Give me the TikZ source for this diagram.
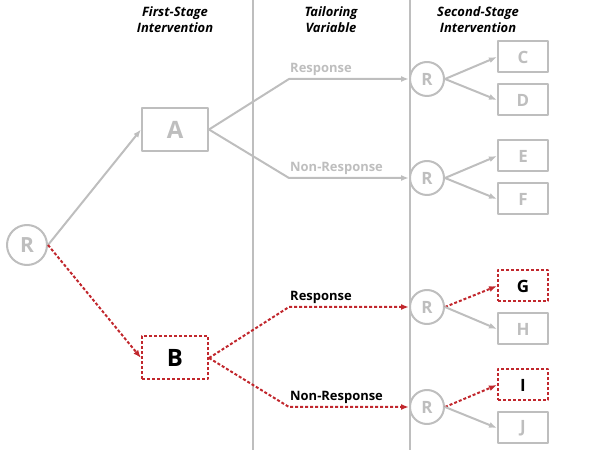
\documentclass[tikz,border=0pt]{standalone}
\usepackage{fontspec}
\setmainfont{Open Sans}
\usetikzlibrary{arrows.meta}
\definecolor{lightgray}{RGB}{190,190,190}
\definecolor{darkred}{RGB}{193,39,45}
\tikzset{
  bigbox/.style={draw=lightgray,line width=2bp,minimum width=66bp,minimum height=43bp,inner sep=0pt,text=lightgray,font=\fontsize{24}{28}\selectfont\bfseries},
  smallbox/.style={draw=lightgray,line width=2bp,minimum width=50bp,minimum height=31bp,inner sep=0pt,text=lightgray,font=\fontsize{17}{20}\selectfont\bfseries},
  chosen/.style={draw=darkred,dash pattern=on 3bp off 2bp,text=black},
  randnode/.style={circle,draw=lightgray,line width=2bp,minimum size=34bp,inner sep=0pt,text=lightgray,font=\fontsize{17}{20}\selectfont\bfseries},
  grayline/.style={lightgray,line width=2bp,->},
  redline/.style={darkred,line width=2bp,dash pattern=on 3bp off 2bp,->},
  header/.style={align=center,font=\fontsize{13}{16}\selectfont\bfseries\itshape},
  branchlabel/.style={anchor=south west,inner sep=0pt,font=\fontsize{13}{15}\selectfont\bfseries},
}
\begin{document}
\begin{tikzpicture}[>={Latex[length=8bp,width=6bp]},line join=bevel]
\useasboundingbox (0bp,0bp) rectangle (600bp,450bp);
%% column rules and headers
\draw [lightgray,line width=1.2bp] (253bp,0bp) -- (253bp,450bp);
\draw [lightgray,line width=1.2bp] (410bp,0bp) -- (410bp,450bp);
\node (head_1) at (175bp,430bp) [header] {First-Stage\\Intervention};
\node (head_2) at (331bp,430bp) [header] {Tailoring\\Variable};
\node (head_3) at (478bp,430bp) [header] {Second-Stage\\Intervention};
%% first stage
\node (node_r0) at (27bp,205bp) [randnode,minimum size=40bp,font=\fontsize{21}{24}\selectfont\bfseries] {R};
\node (node_a) at (175bp,320.5bp) [bigbox] {A};
\node (node_b) at (175bp,92bp) [bigbox,chosen] {B};
\draw [grayline] (node_r0.east) -- (node_a.west);
\draw [redline] (node_r0.east) -- (node_b.west);
%% tailoring variable
\coordinate (bend_1) at (289bp,371bp);
\coordinate (bend_2) at (289bp,272bp);
\coordinate (bend_3) at (289bp,143bp);
\coordinate (bend_4) at (289bp,43bp);
\node (node_r1) at (427bp,371bp) [randnode] {R};
\node (node_r2) at (427bp,272bp) [randnode] {R};
\node (node_r3) at (427bp,143bp) [randnode] {R};
\node (node_r4) at (427bp,43bp) [randnode] {R};
\draw [grayline] (node_a.east) -- (bend_1) -- (node_r1);
\draw [grayline] (node_a.east) -- (bend_2) -- (node_r2);
\draw [redline] (node_b.east) -- (bend_3) -- (node_r3);
\draw [redline] (node_b.east) -- (bend_4) -- (node_r4);
\node (lab_1) at (290bp,374bp) [branchlabel,text=lightgray] {Response};
\node (lab_2) at (290bp,275bp) [branchlabel,text=lightgray] {Non-Response};
\node (lab_3) at (290bp,146bp) [branchlabel] {Response};
\node (lab_4) at (290bp,46bp) [branchlabel] {Non-Response};
%% second stage
\node (node_c) at (523bp,393bp) [smallbox] {C};
\node (node_d) at (523bp,350bp) [smallbox] {D};
\node (node_e) at (523bp,294bp) [smallbox] {E};
\node (node_f) at (523bp,251bp) [smallbox] {F};
\node (node_g) at (523bp,164bp) [smallbox,chosen] {G};
\node (node_h) at (523bp,121bp) [smallbox] {H};
\node (node_i) at (523bp,65bp) [smallbox,chosen] {I};
\node (node_j) at (523bp,22bp) [smallbox] {J};
\draw [grayline] (node_r1.east) -- (node_c.west);
\draw [grayline] (node_r1.east) -- (node_d.west);
\draw [grayline] (node_r2.east) -- (node_e.west);
\draw [grayline] (node_r2.east) -- (node_f.west);
\draw [redline] (node_r3.east) -- (node_g.west);
\draw [grayline] (node_r3.east) -- (node_h.west);
\draw [redline] (node_r4.east) -- (node_i.west);
\draw [grayline] (node_r4.east) -- (node_j.west);
%
\end{tikzpicture}
\end{document}
